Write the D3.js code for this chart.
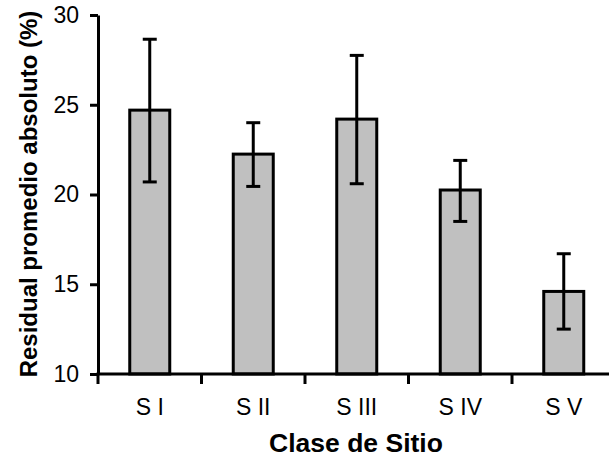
<!DOCTYPE html>
<html>
<head>
<meta charset="utf-8">
<script src="https://cdn.jsdelivr.net/npm/d3@7"></script>
<style>
  html, body { margin: 0; padding: 0; background: #fff; }
  svg { display: block; }
</style>
</head>
<body>
<svg id="chart" width="609" height="457"></svg>
<script>
const categories = ["S I", "S II", "S III", "S IV", "S V"];
const means = [24.7, 22.25, 24.2, 20.25, 14.6];
const errLow = [20.7, 20.45, 20.6, 18.5, 12.5];
const errHigh = [28.65, 24.0, 27.75, 21.9, 16.7];
const yTicks = [10, 15, 20, 25, 30];

const svg = d3.select("#chart");
const font = "Arial, 'Liberation Sans', sans-serif";

const x = d3.scaleBand().domain(categories).range([98, 615.5]).padding(0);
const y = d3.scaleLinear().domain([10, 30]).range([374, 15]);

const data = categories.map((c, i) => ({ c, m: means[i], lo: errLow[i], hi: errHigh[i] }));

// bars
svg.append("g").selectAll("rect").data(data).enter().append("rect")
  .attr("x", d => x(d.c) + x.bandwidth() / 2 - 20)
  .attr("width", 40)
  .attr("y", d => y(d.m))
  .attr("height", d => y(10) - y(d.m))
  .attr("fill", "#c0c0c0")
  .attr("stroke", "#000")
  .attr("stroke-width", 3);

// error bars
const eb = svg.append("g").attr("stroke", "#000").attr("stroke-width", 3);
data.forEach(d => {
  const cx = x(d.c) + x.bandwidth() / 2;
  eb.append("line").attr("x1", cx).attr("x2", cx).attr("y1", y(d.hi)).attr("y2", y(d.lo));
  eb.append("line").attr("x1", cx - 7).attr("x2", cx + 7).attr("y1", y(d.hi)).attr("y2", y(d.hi));
  eb.append("line").attr("x1", cx - 7).attr("x2", cx + 7).attr("y1", y(d.lo)).attr("y2", y(d.lo));
});

// y axis
const yAxis = svg.append("g").attr("transform", "translate(98,0)")
  .call(d3.axisLeft(y).tickValues(yTicks).tickSize(8).tickPadding(11).tickSizeOuter(0));
yAxis.select(".domain").attr("stroke", "#000").attr("stroke-width", 3);
yAxis.selectAll(".tick line").attr("stroke", "#000").attr("stroke-width", 3);
yAxis.selectAll(".tick text").attr("font-family", font).attr("font-size", 23).attr("fill", "#000");

// x axis
const xEdges = categories.map(c => x(c)).concat([x.range()[1]]);
const xAxis = svg.append("g").attr("transform", "translate(0,374)");
xAxis.append("line").attr("x1", 96.5).attr("x2", 615.5).attr("y1", 0).attr("y2", 0)
  .attr("stroke", "#000").attr("stroke-width", 3);
xAxis.selectAll("line.tk").data(xEdges).enter().append("line").attr("class", "tk")
  .attr("x1", d => d).attr("x2", d => d).attr("y1", 0).attr("y2", 10)
  .attr("stroke", "#000").attr("stroke-width", 3);
xAxis.selectAll("text").data(categories).enter().append("text")
  .attr("x", d => x(d) + x.bandwidth() / 2)
  .attr("y", 41)
  .attr("text-anchor", "middle")
  .attr("font-family", font).attr("font-size", 23).attr("fill", "#000")
  .text(d => d);

// titles
svg.append("text")
  .attr("x", 356).attr("y", 452)
  .attr("text-anchor", "middle")
  .attr("font-family", font).attr("font-size", 26.5).attr("font-weight", "bold")
  .text("Clase de Sitio");

svg.append("text")
  .attr("transform", "translate(37,194) rotate(-90)")
  .attr("text-anchor", "middle")
  .attr("font-family", font).attr("font-size", 24).attr("font-weight", "bold")
  .text("Residual promedio absoluto (%)");
</script>
</body>
</html>
